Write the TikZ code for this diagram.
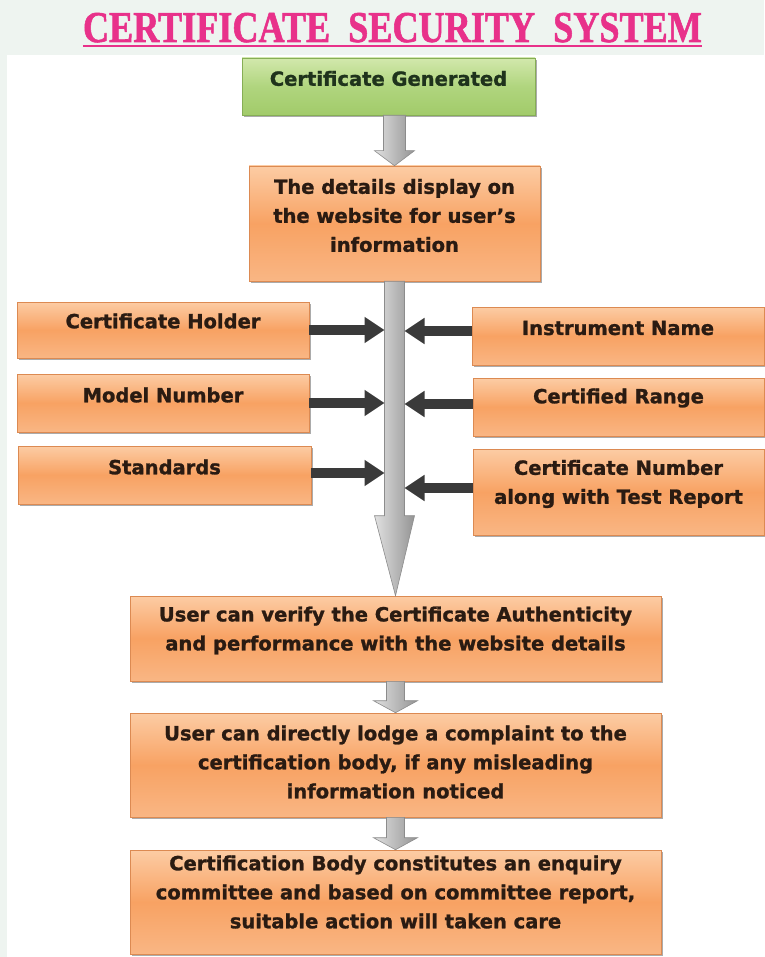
\documentclass[tikz,border=0pt]{standalone}
\usepackage{fontspec}
\usepackage{graphicx}
\setmainfont{DejaVu Sans}[BoldFeatures={FakeBold=1.3}]
\newfontfamily\titlefont{Liberation Serif}[BoldFeatures={FakeBold=1.5}]
\usetikzlibrary{calc,arrows.meta,shadows}
\definecolor{PanelGray}{HTML}{EEF4F0}
\definecolor{TitlePink}{HTML}{E8318A}
\definecolor{OrTop}{HTML}{FCCCA4}
\definecolor{OrMid}{HTML}{F8A263}
\definecolor{OrBot}{HTML}{F9B684}
\definecolor{OrEdge}{HTML}{DC8A52}
\definecolor{GrTop}{HTML}{D2E8AC}
\definecolor{GrMid}{HTML}{B0D57E}
\definecolor{GrBot}{HTML}{A2CB6A}
\definecolor{GrEdge}{HTML}{86AE55}
\definecolor{TextBrown}{HTML}{2A1B12}
\definecolor{TextGreen}{HTML}{1F331C}
\definecolor{DarkArrow}{HTML}{3A3A3A}

% block arrow: start, tip, shaft half width, head half width, head length
\newcommand{\grayarrow}[5]{%
  \path[grayarr] let \p1=(#1), \p2=(#2) in
    (\x1-#3,\y1) -- (\x1+#3,\y1) -- (\x1+#3,\y2+#5) -- (\x1+#4,\y2+#5)
    -- (\x2,\y2) -- (\x1-#4,\y2+#5) -- (\x1-#3,\y2+#5) -- cycle;}

\begin{document}
\begin{tikzpicture}[x=1pt, y=-1pt,
    orbox/.style={rectangle, draw=OrEdge, line width=0.6pt, top color=OrTop, bottom color=OrBot, middle color=OrMid,
      drop shadow={shadow xshift=1.5pt, shadow yshift=-2pt, fill=black!55, opacity=0.6}},
    grbox/.style={orbox, draw=GrEdge, top color=GrTop, bottom color=GrBot, middle color=GrMid},
    boxtext/.style={align=center, text=TextBrown, font=\fontsize{19.5}{29}\selectfont\bfseries},
    grayarr/.style={draw=black!45, line width=0.6pt, left color=black!12, right color=black!42},
    darkarr/.style={draw=DarkArrow, line width=10pt, -{Triangle[length=20pt, width=25pt]}}]
  \useasboundingbox (0,0) rectangle (764,957);
  % page and panel
  \fill[PanelGray] (0,0) rectangle (764,957);
  \fill[white] (7,55) rectangle (764,957);

  % title
  \node[anchor=base, inner sep=0pt, text=TitlePink] (title) at (392.5,42)
    {\resizebox{619pt}{\height}{\titlefont\bfseries\fontsize{44}{44}\selectfont CERTIFICATE\ \ SECURITY\ \ SYSTEM}};
  \draw[TitlePink, line width=2pt] ([yshift=-3pt]title.south west) -- ([yshift=-3pt]title.south east);

  % boxes
  \node[grbox, minimum width=293pt, minimum height=57pt] (gen) at (388.5,86.5) {};
  \node[orbox, minimum width=291pt, minimum height=115pt] (det) at (394.5,223.5) {};

  \node[orbox, minimum width=292pt, minimum height=56pt] (holder) at (163,330) {};
  \node[orbox, minimum width=292pt, minimum height=58pt] (model) at (163,403) {};
  \node[orbox, minimum width=293pt, minimum height=58pt] (std) at (164.5,475) {};

  \node[orbox, minimum width=292pt, minimum height=58pt] (instr) at (618,336) {};
  \node[orbox, minimum width=291pt, minimum height=58pt] (range) at (618.5,407) {};
  \node[orbox, minimum width=291pt, minimum height=86pt] (certno) at (618.5,492) {};

  \node[orbox, minimum width=531pt, minimum height=85pt] (verify) at (395.5,638.5) {};
  \node[orbox, minimum width=531pt, minimum height=104pt] (lodge) at (395.5,765) {};
  \node[orbox, minimum width=531pt, minimum height=104pt] (action) at (395.5,902) {};

  % texts
  \node[boxtext, text=TextGreen] (genText) at ([yshift=8pt]gen.center) {Certificate Generated};
  \node[boxtext] (detText) at ([yshift=8pt]det.center) {The details display on\\the website for user’s\\information};
  \node[boxtext] (holderText) at ([yshift=9pt]holder.center) {Certificate Holder};
  \node[boxtext] (modelText) at ([yshift=8pt]model.center) {Model Number};
  \node[boxtext] (stdText) at ([yshift=8pt]std.center) {Standards};
  \node[boxtext] (instrText) at ([yshift=8pt]instr.center) {Instrument Name};
  \node[boxtext] (rangeText) at ([yshift=9pt]range.center) {Certified Range};
  \node[boxtext] (certnoText) at ([yshift=8pt]certno.center) {Certificate Number\\along with Test Report};
  \node[boxtext] (verifyText) at ([yshift=8pt]verify.center) {User can verify the Certificate Authenticity\\and performance with the website details};
  \node[boxtext] (lodgeText) at ([yshift=3pt]lodge.center) {User can directly lodge a complaint to the\\certification body, if any misleading\\information noticed};
  \node[boxtext] (actionText) at ([yshift=10pt]action.center) {Certification Body constitutes an enquiry\\committee and based on committee report,\\suitable action will taken care};

  % gray flow arrows
  \grayarrow{det.north |- gen.south}{det.north}{11pt}{20pt}{15pt}
  \grayarrow{det.south}{verify.north}{10pt}{20pt}{80pt}
  \grayarrow{verify.south}{lodge.north}{9pt}{22pt}{12pt}
  \grayarrow{lodge.south}{action.north}{9pt}{22pt}{12pt}

  % dark arrows into the shaft
  \coordinate (shaftL) at ([xshift=-10pt]det.south);
  \coordinate (shaftR) at ([xshift=10pt]det.south);
  \draw[darkarr] (holder.east) -- (holder.east -| shaftL);
  \draw[darkarr] (model.east) -- (model.east -| shaftL);
  \draw[darkarr] ([yshift=2pt]std.east) -- ([yshift=2pt]std.east -| shaftL);
  \draw[darkarr] ([yshift=5pt]instr.west) -- ([yshift=5pt]instr.west -| shaftR);
  \draw[darkarr] ([yshift=3pt]range.west) -- ([yshift=3pt]range.west -| shaftR);
  \draw[darkarr] ([yshift=4pt]certno.west) -- ([yshift=4pt]certno.west -| shaftR);
\end{tikzpicture}
\end{document}
